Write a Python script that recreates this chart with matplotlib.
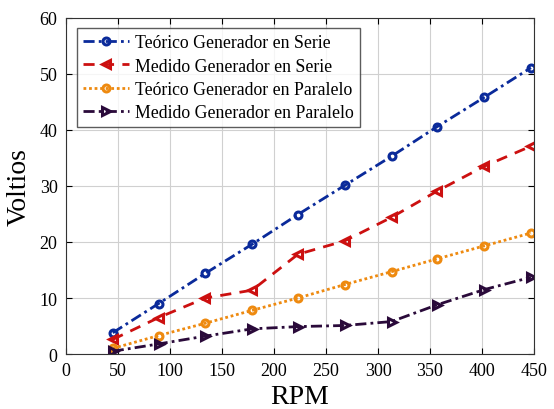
import numpy as np
import matplotlib
matplotlib.use("Agg")
import matplotlib.pyplot as plt

plt.rcParams['font.family'] = ['Liberation Serif', 'DejaVu Serif']
plt.rcParams['font.size'] = 13

rpm = [45, 89, 134, 179, 223, 268, 313, 357, 402, 447]
teo_serie = [3.8, 9.0, 14.4, 19.6, 24.9, 30.1, 35.3, 40.6, 45.8, 51.1]
med_serie = [2.6, 6.5, 10.0, 11.4, 17.8, 20.2, 24.4, 29.1, 33.5, 37.1]
teo_paralelo = [1.0, 3.3, 5.5, 7.8, 10.0, 12.4, 14.7, 17.0, 19.3, 21.6]
med_paralelo = [0.5, 1.8, 3.2, 4.5, 4.9, 5.1, 5.8, 8.8, 11.5, 13.7]

fig = plt.figure(figsize=(5.54, 4.10), dpi=100)
ax = fig.add_axes([0.119, 0.134, 0.845, 0.820])

ax.plot(rpm, teo_serie, linestyle=(0, (4, 1.5, 1, 1.5)), color='#0a2a9a', lw=2,
        marker='o', ms=5, mfc='none', mew=2.2, label='Teórico Generador en Serie')
ax.plot(rpm, med_serie, linestyle=(0, (4, 3)), color='#cc1010', lw=2, marker='<',
        ms=6, mfc='none', mew=2.2, label='Medido Generador en Serie')
ax.plot(rpm, teo_paralelo, linestyle=(0, (1, 1)), color='#ee8a10', lw=2, marker='o',
        ms=5, mfc='none', mew=2.2, label='Teórico Generador en Paralelo')
ax.plot(rpm, med_paralelo, linestyle=(0, (4, 1.5, 1, 1.5)), color='#2a0a3a', lw=2,
        marker='>', ms=6, mfc='none', mew=2.2, label='Medido Generador en Paralelo')

ax.set_xlim(0, 450)
ax.set_ylim(0, 60)
ax.set_xticks(np.arange(0, 451, 50))
ax.set_yticks(np.arange(0, 61, 10))
ax.grid(True, color='#d0d0d0', lw=0.8)
ax.set_axisbelow(True)
ax.tick_params(direction='in', length=4, top=True, right=True, pad=6)
for s in ax.spines.values():
    s.set_color('#333333')

ax.set_xlabel('RPM', fontsize=20, labelpad=3)
ax.set_ylabel('Voltios', fontsize=20, labelpad=6)

leg = ax.legend(loc='upper left', bbox_to_anchor=(0.012, 0.985), fontsize=12.8,
                frameon=True, fancybox=False, edgecolor='#333333',
                handlelength=2.6, handletextpad=0.3, borderpad=0.35,
                labelspacing=0.35, borderaxespad=0.3)
leg.get_frame().set_linewidth(1.0)

fig.savefig('out.png', dpi=100)
